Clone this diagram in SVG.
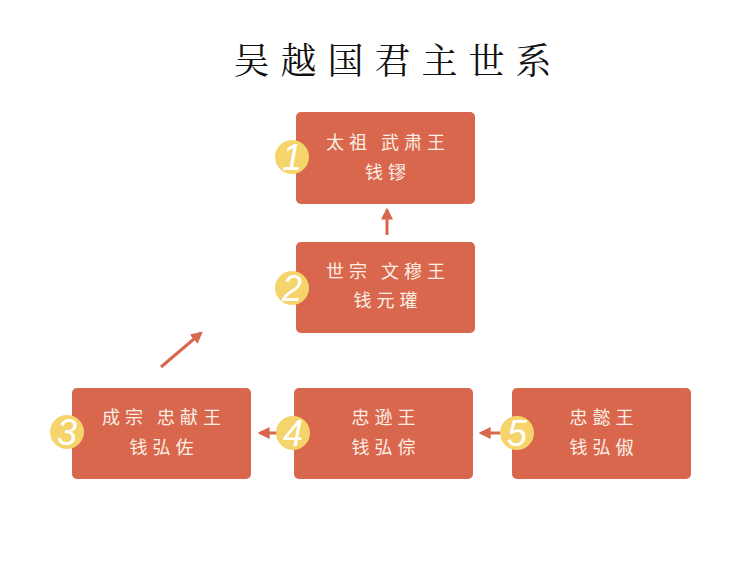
<svg xmlns="http://www.w3.org/2000/svg" width="741" height="572" viewBox="0 0 741 572">
<defs>
<style>
.box{fill:#d9674e;}
.badge{fill:#f6d46c;}
.num{font-family:"Liberation Sans",sans-serif;font-style:italic;font-size:36px;fill:#ffffff;text-anchor:middle;font-weight:300;}
.t{font-family:"Noto Sans CJK SC",sans-serif;font-size:18px;fill:#fbefe4;text-anchor:middle;letter-spacing:5px;}
.title{font-family:"Noto Serif CJK SC","Noto Sans CJK SC",serif;font-size:36px;fill:#111111;text-anchor:middle;letter-spacing:11px;}
.conn{stroke:#d9674e;stroke-width:3;fill:none;}
</style>
<marker id="ah" viewBox="0 0 10 10" refX="8" refY="5" markerWidth="4" markerHeight="4" orient="auto" markerUnits="strokeWidth">
<path d="M0,0 L10,5 L0,10 z" fill="#d9674e"/>
</marker>
</defs>
<rect width="741" height="572" fill="#ffffff"/>
<text class="title" x="398" y="74">吴越国君主世系</text>
<g id="connectors">
<line class="conn" x1="387" y1="235" x2="387" y2="210" marker-end="url(#ah)"/>
<line class="conn" x1="161" y1="367" x2="201" y2="333" marker-end="url(#ah)"/>
<line class="conn" x1="277" y1="433" x2="260" y2="433" marker-end="url(#ah)"/>
<line class="conn" x1="500" y1="433" x2="481" y2="433" marker-end="url(#ah)"/>
</g>
<g id="node1">
<rect class="box" x="296" y="112" width="179" height="92" rx="5"/>
<circle class="badge" cx="292" cy="157" r="17"/>
<text class="num" x="292" y="170">1</text>
<text class="t" x="388" y="149">太祖 武肃王</text>
<text class="t" x="388" y="179">钱镠</text>
</g>
<g id="node2">
<rect class="box" x="296" y="242" width="179" height="91" rx="5"/>
<circle class="badge" cx="292" cy="288" r="17"/>
<text class="num" x="292" y="301">2</text>
<text class="t" x="388" y="278">世宗 文穆王</text>
<text class="t" x="388" y="307">钱元瓘</text>
</g>
<g id="node3">
<rect class="box" x="72" y="388" width="179" height="91" rx="5"/>
<circle class="badge" cx="67" cy="432" r="17"/>
<text class="num" x="67" y="445">3</text>
<text class="t" x="164" y="424">成宗 忠献王</text>
<text class="t" x="164" y="454">钱弘佐</text>
</g>
<g id="node4">
<rect class="box" x="294" y="388" width="179" height="91" rx="5"/>
<circle class="badge" cx="293" cy="433" r="17"/>
<text class="num" x="293" y="446">4</text>
<text class="t" x="386" y="424">忠逊王</text>
<text class="t" x="386" y="454">钱弘倧</text>
</g>
<g id="node5">
<rect class="box" x="512" y="388" width="179" height="91" rx="5"/>
<circle class="badge" cx="517" cy="433" r="17"/>
<text class="num" x="517" y="446">5</text>
<text class="t" x="604" y="424">忠懿王</text>
<text class="t" x="604" y="454">钱弘俶</text>
</g>
</svg>
